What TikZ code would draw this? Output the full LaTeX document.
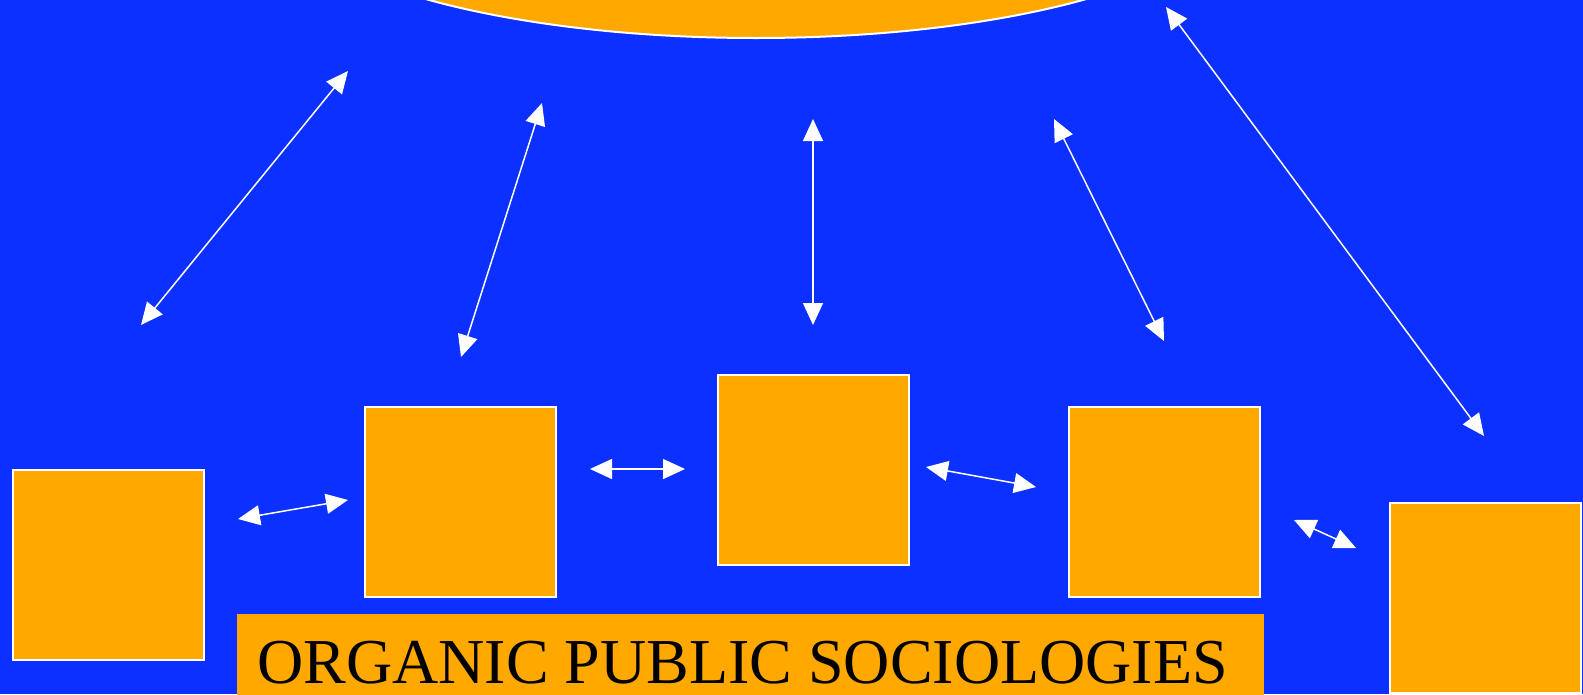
\documentclass[tikz,border=0pt]{standalone}
\usepackage{fontspec}
\setmainfont{Liberation Serif}
\usetikzlibrary{arrows.meta,shapes.geometric,positioning}
\definecolor{bgblue}{RGB}{12,48,255}
\definecolor{sunorange}{RGB}{255,168,0}
\tikzset{
    link/.style={{Triangle[length=22pt, width=20pt]}-{Triangle[length=22pt, width=20pt]}, line width=1.5pt, white},
    box/.style={draw=white, line width=2pt, fill=sunorange, minimum width=191pt, minimum height=190pt, inner sep=0pt},
    hub/.style={ellipse, draw=white, line width=2pt, fill=sunorange, minimum width=960pt, minimum height=284pt, inner sep=0pt},
    banner/.style={fill=sunorange, minimum width=1027pt, minimum height=90pt, inner sep=0pt}
}

\begin{document}
\begin{tikzpicture}[x=1pt, y=-1pt]
                \fill[bgblue] (0,0) rectangle (1583,694);
                \useasboundingbox (0,0) rectangle (1583,694);
                % top ellipse and the five boxes
                \node[hub] (top) at (756,-104) {};
                \node[box] (b1) at (108.5,565) {};
                \node[box] (b2) at (460.5,502) {};
                \node[box] (b3) at (813.5,469.5) {};
                \node[box] (b4) at (1164.5,502) {};
                \node[box] (b5) at (1485,598) {};
                \node[banner, anchor=north west] (band) at (237,614) {};
                \node[anchor=base west, inner sep=0pt, font=\fontsize{64pt}{64pt}\selectfont] (title) at (257,683) {ORGANIC PUBLIC SOCIOLOGIES};
                % arrow ends
                \coordinate (u1) at (141,325);  \coordinate (v1) at (348,71);
                \coordinate (u2) at (461,357);  \coordinate (v2) at (542,103);
                \coordinate (u3) at (813,325);  \coordinate (v3) at (813,119);
                \coordinate (u4) at (1164,341); \coordinate (v4) at (1054,119);
                \coordinate (u5) at (1484,436); \coordinate (v5) at (1166,7);
                \coordinate (h1) at (238,519);  \coordinate (k1) at (348,500);
                \coordinate (h2) at (590,469);  \coordinate (k2) at (685,469);
                \coordinate (h3) at (926,467);  \coordinate (k3) at (1036,487);
                \coordinate (h4) at (1294,520); \coordinate (k4) at (1356,548);
                \draw[link] (u1) -- (v1);
                \draw[link] (u2) -- (v2);
                \draw[link] (u3) -- (v3);
                \draw[link] (u4) -- (v4);
                \draw[link] (u5) -- (v5);
                \draw[link] (h1) -- (k1);
                \draw[link] (h2) -- (k2);
                \draw[link] (h3) -- (k3);
                \draw[link] (h4) -- (k4);
            \end{tikzpicture}
\end{document}
